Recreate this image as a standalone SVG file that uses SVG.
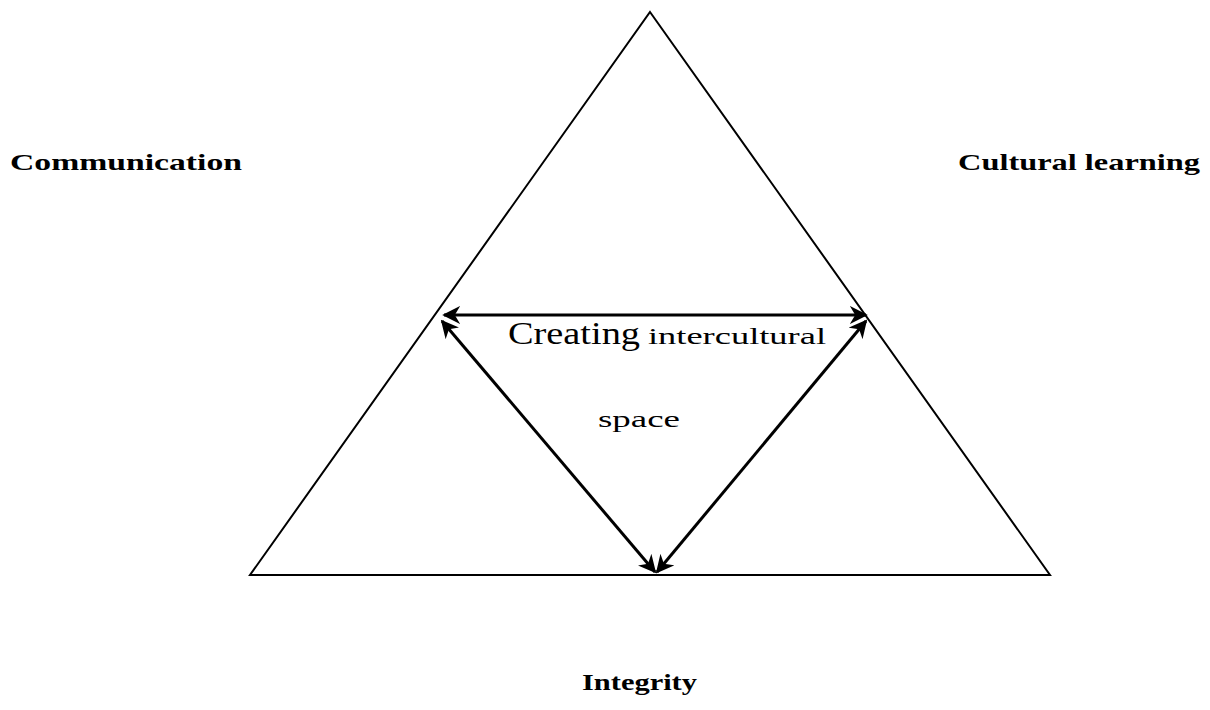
<svg xmlns="http://www.w3.org/2000/svg" width="1210" height="710" viewBox="0 0 1210 710">
<style>
.lbl{font-family:"Liberation Serif","DejaVu Serif",serif;font-weight:bold;font-size:24px;fill:#000}
.txt{font-family:"Liberation Serif","DejaVu Serif",serif;fill:#000}
.arr{stroke:#000;stroke-width:3;fill:none;marker-start:url(#ah);marker-end:url(#ah)}
</style>
<defs>
<marker id="ah" viewBox="0 0 10 10" refX="9" refY="5" markerWidth="6" markerHeight="6" orient="auto-start-reverse" markerUnits="strokeWidth">
<path d="M0,0 L10,5 L0,10 L3,5 Z" fill="#000"/>
</marker>
</defs>
<rect width="1210" height="710" fill="#fff"/>
<g id="triangle">
<polygon points="650,12 1050,575 250,575" fill="none" stroke="#000" stroke-width="2"/>
</g>
<g id="communication"><text class="lbl" x="10" y="170" textLength="232" lengthAdjust="spacingAndGlyphs">Communication</text></g>
<g id="cultural-learning"><text class="lbl" x="958" y="170" textLength="242" lengthAdjust="spacingAndGlyphs">Cultural learning</text></g>
<g id="integrity"><text class="lbl" x="582" y="690" textLength="115" lengthAdjust="spacingAndGlyphs">Integrity</text></g>
<g id="center">
<text class="txt" x="508" y="344" font-size="32" textLength="132" lengthAdjust="spacingAndGlyphs">Creating</text>
<text class="txt" x="648" y="344" font-size="24" textLength="178" lengthAdjust="spacingAndGlyphs">intercultural</text>
<text class="txt" x="598" y="427" font-size="24" textLength="82" lengthAdjust="spacingAndGlyphs">space</text>
</g>
<g id="connectors">
<line class="arr" x1="444" y1="315" x2="866" y2="315"/>
<line class="arr" x1="442" y1="321" x2="655" y2="572"/>
<line class="arr" x1="866" y1="321" x2="657" y2="572"/>
</g>
</svg>
